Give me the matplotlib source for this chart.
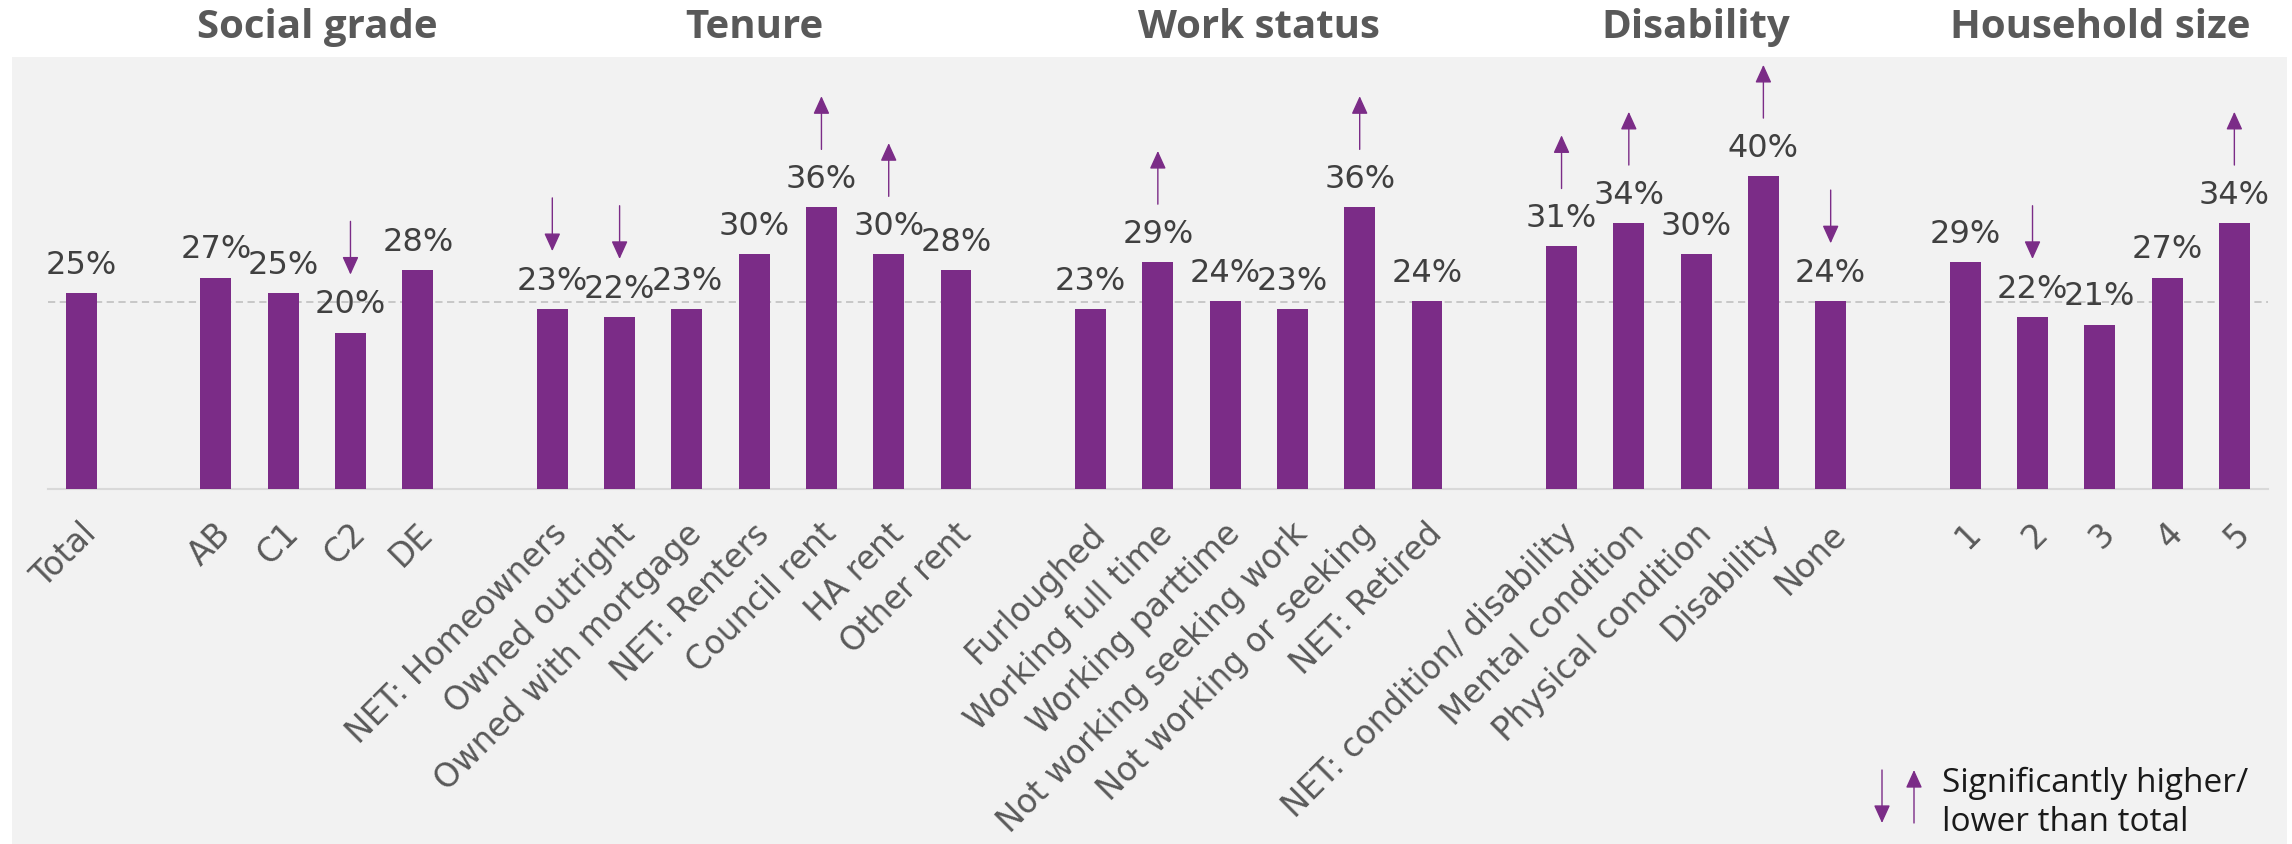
import matplotlib.pyplot as plt
from matplotlib.patches import Rectangle
from matplotlib.transforms import blended_transform_factory, ScaledTranslation

# survey breakdown: share answering yes, by demographic group
total_label = "Total"
total_value = 25
total_line = 23.9

groups = ["Social grade", "Tenure", "Work status", "Disability", "Household size"]

social_grade = ["AB", "C1", "C2", "DE"]
social_grade_values = [27, 25, 20, 28]
social_grade_sig = ["", "", "down", ""]

tenure = ["NET: Homeowners", "Owned outright", "Owned with mortgage", "NET: Renters",
          "Council rent", "HA rent", "Other rent"]
tenure_values = [23, 22, 23, 30, 36, 30, 28]
tenure_sig = ["down", "down", "", "", "up", "up", ""]

work_status = ["Furloughed", "Working full time", "Working parttime", "Not working seeking work",
               "Not working or seeking", "NET: Retired"]
work_status_values = [23, 29, 24, 23, 36, 24]
work_status_sig = ["", "up", "", "", "up", ""]

disability = ["NET: condition/ disability", "Mental condition", "Physical condition",
              "Disability", "None"]
disability_values = [31, 34, 30, 40, 24]
disability_sig = ["up", "up", "", "up", "down"]

household_size = ["1", "2", "3", "4", "5"]
household_size_values = [29, 22, 21, 27, 34]
household_size_sig = ["", "down", "", "", "up"]

PURPLE = "#7B2C87"
BG = "#F2F2F2"
FONT = ["Open Sans", "DejaVu Sans"]
WIDE = ["DejaVu Sans"]
ARROW = "-|>,head_length=1.1,head_width=0.5"

group_members = [
    (social_grade, social_grade_values, social_grade_sig),
    (tenure, tenure_values, tenure_sig),
    (work_status, work_status_values, work_status_sig),
    (disability, disability_values, disability_sig),
    (household_size, household_size_values, household_size_sig),
]

# lay out the bars with one empty slot between groups
labels = [total_label]
values = [total_value]
sig = [""]
pos = [0]
group_centres = []
x = 0
for names, vals, marks in group_members:
    x += 2
    start = x
    for i, (n, v, m) in enumerate(zip(names, vals, marks)):
        if i > 0:
            x += 1
        labels.append(n)
        values.append(v)
        sig.append(m)
        pos.append(x)
    group_centres.append((start + x) / 2)

W, H = 2292, 845
fig = plt.figure(figsize=(W / 100, H / 100), dpi=100)
fig.patches.append(Rectangle((12 / W, 0), (2287 - 12) / W, (845 - 58) / H,
                             transform=fig.transFigure, facecolor=BG, edgecolor="none",
                             zorder=-5))

ax = fig.add_axes([47.7 / W, (H - 490) / H, (2268 - 47.7) / W, (490 - 58) / H])
ax.set_facecolor("none")
ax.set_xlim(-0.5, pos[-1] + 0.5)
ax.set_ylim(0, 432 / 7.825)

ax.bar(pos, values, width=0.46, color=PURPLE, zorder=3)
ax.axhline(total_line, color="#C4C4C4", lw=1.3, ls=(0, (4, 2.5)), zorder=2)

for s in ["top", "right", "left"]:
    ax.spines[s].set_visible(False)
ax.spines["bottom"].set_color("#D9D9D9")
ax.spines["bottom"].set_linewidth(1.5)
ax.set_yticks([])
ax.set_xticks(pos)
ax.set_xticklabels(labels, rotation=45, ha="right", va="center", rotation_mode="anchor",
                   fontsize=23.5, color="#595959", family=WIDE)
ax.tick_params(axis="x", length=0, pad=28)
shift = ScaledTranslation(0.10, 0, fig.dpi_scale_trans)
for lbl in ax.get_xticklabels():
    lbl.set_transform(lbl.get_transform() + shift)

for p, v, m in zip(pos, values, sig):
    ax.text(p, v + 2.6, f"{v}%", ha="center", va="baseline", fontsize=23,
            color="#404040", family=WIDE, zorder=4)
    if m:
        lo, hi = v + 7.4, v + 14.2
        tip, tail = (hi, lo) if m == "up" else (lo, hi)
        ax.annotate("", xy=(p, tip), xytext=(p, tail), annotation_clip=False,
                    arrowprops=dict(arrowstyle=ARROW, mutation_scale=10, color=PURPLE,
                                    lw=1.0, shrinkA=0, shrinkB=0))

header_tf = blended_transform_factory(ax.transData, fig.transFigure)
for g, c in zip(groups, group_centres):
    ax.text(c, (H - 27.5) / H, g, transform=header_tf, ha="center", va="center",
            fontsize=29, fontweight="bold", color="#595959", family=FONT)

# legend for the significance arrows
for lx, up in [(1882, False), (1914, True)]:
    top, bottom = (H - 771) / H, (H - 824) / H
    tip, tail = (top, bottom) if up else (bottom, top)
    ax.annotate("", xy=(lx / W, tip), xytext=(lx / W, tail), xycoords="figure fraction",
                annotation_clip=False,
                arrowprops=dict(arrowstyle=ARROW, mutation_scale=10, color=PURPLE,
                                lw=1.0, shrinkA=0, shrinkB=0))
fig.text(1942 / W, (H - 792) / H, "Significantly higher/", ha="left", va="baseline",
         fontsize=24, color="#1A1A1A", family=FONT)
fig.text(1942 / W, (H - 831) / H, "lower than total", ha="left", va="baseline",
         fontsize=24, color="#1A1A1A", family=FONT)

fig.savefig("out.png", dpi=100)
